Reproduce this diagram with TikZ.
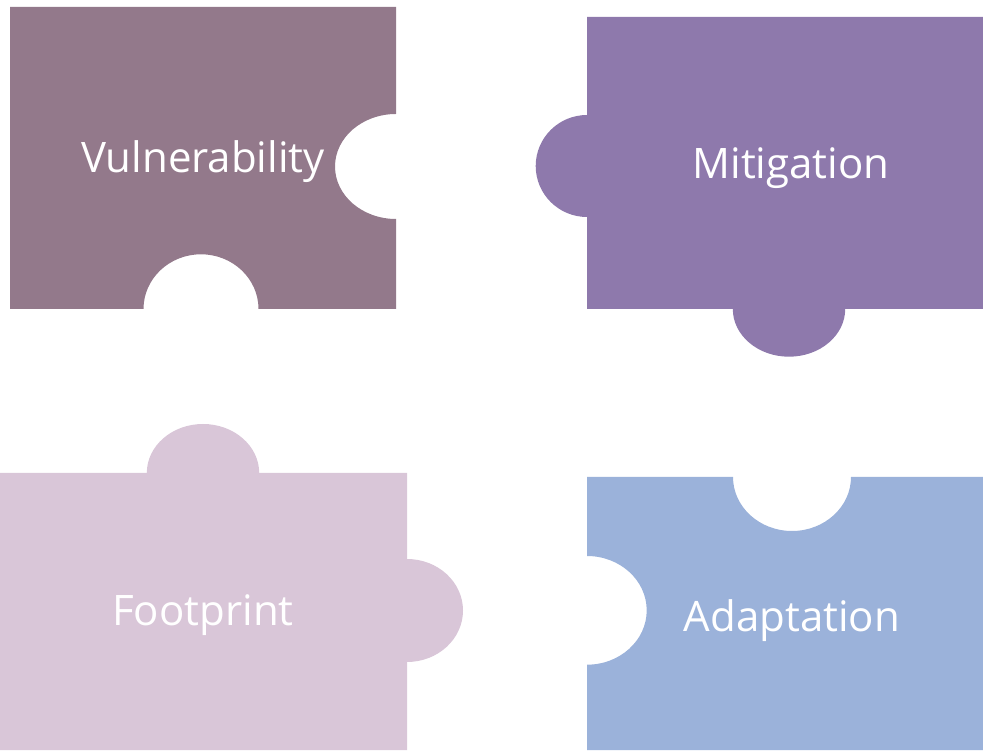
\documentclass[tikz,border=0pt]{standalone}
\usepackage{fontspec}
\setmainfont{Open Sans}
\definecolor{vulncol}{HTML}{93798B}
\definecolor{mitcol}{HTML}{8E79AC}
\definecolor{footcol}{HTML}{D9C6D8}
\definecolor{adaptcol}{HTML}{9BB2DA}
\tikzset{
  piece/.style={draw=none},
  label/.style={text=white, inner sep=0pt, anchor=base, font=\fontsize{42}{50}\selectfont},
}
\begin{document}
\begin{tikzpicture}[x=1pt, y=1pt]
\useasboundingbox (0,0) rectangle (983,750);

% Vulnerability: notches on the right and bottom
\fill[vulncol, piece] (10,743) -- (396,743) -- (396,636)
  arc[start angle=90, end angle=270, x radius=61, y radius=52.5]
  -- (396,441) -- (258.5,441)
  arc[start angle=0, end angle=180, x radius=57.5, y radius=54.7]
  -- (10,441) -- cycle;

% Mitigation: tabs on the left and bottom
\fill[mitcol, piece] (587,733) -- (983,733) -- (983,441) -- (845.2,441)
  arc[start angle=0, end angle=-180, x radius=56.2, y radius=47.7]
  -- (587,441) -- (587,533)
  arc[start angle=-90, end angle=-270, x radius=51.3, y radius=51]
  -- cycle;

% Footprint: tabs on the top and right
\fill[footcol, piece] (0,0) -- (0,277) -- (146.8,277)
  arc[start angle=180, end angle=0, x radius=56.2, y radius=49]
  -- (407,277) -- (407,191)
  arc[start angle=90, end angle=-90, x radius=56, y radius=51.5]
  -- (407,0) -- cycle;

% Adaptation: notches on the left and top
\fill[adaptcol, piece] (587,0) -- (587,85.3)
  arc[start angle=-90, end angle=90, x radius=59.7, y radius=54.35]
  -- (587,273) -- (733,273)
  arc[start angle=180, end angle=360, x radius=59, y radius=54]
  -- (983,273) -- (983,0) -- cycle;

\node[label] (vuln) at (203,577.3) {Vulnerability};
\node[label] (mit) at (791,571) {Mitigation};
\node[label] (foot) at (203,124) {Footprint};
\node[label] (adapt) at (792,118.3) {Adaptation};
\end{tikzpicture}
\end{document}
